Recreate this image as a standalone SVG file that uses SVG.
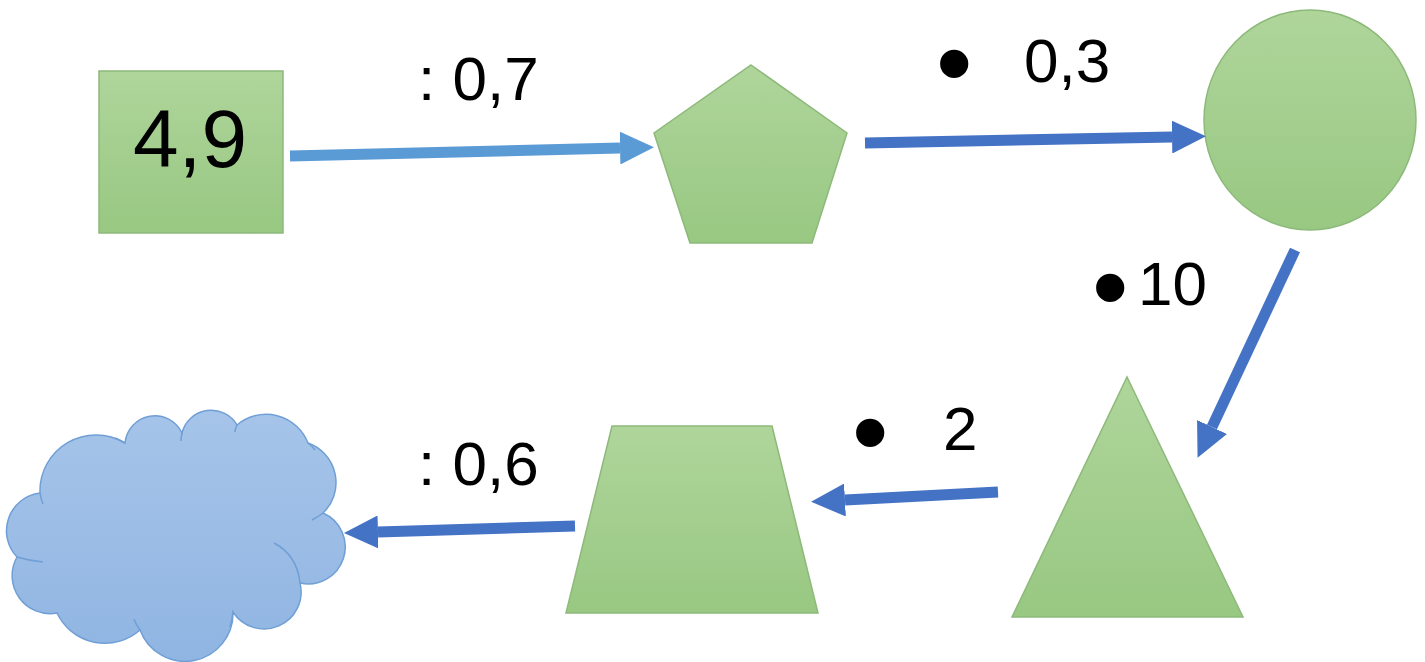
<svg xmlns="http://www.w3.org/2000/svg" width="1425" height="662" viewBox="0 0 1425 662">
<style>
.shape{fill:url(#gGreen);stroke:#8DB97A;stroke-width:1.5}
.cloud{fill:url(#gBlue);stroke:#6F9FD6;stroke-width:1.5}
.lbl{font-family:"Liberation Sans",Arial,sans-serif;font-size:62px;fill:#000}
.big{font-family:"Liberation Sans",Arial,sans-serif;font-size:82px;fill:#000}
.bul{font-size:104px}
.arL{fill:none;stroke:#5B9BD5;stroke-width:11}
.arD{fill:none;stroke:#4472C4;stroke-width:11}
.crease{fill:none;stroke:#6F9FD6;stroke-width:1.5}
</style>
<defs>
<linearGradient id="gGreen" x1="0" y1="0" x2="0" y2="1">
<stop offset="0" stop-color="#AFD59B"/>
<stop offset="1" stop-color="#98C882"/>
</linearGradient>
<linearGradient id="gBlue" x1="0" y1="0" x2="0" y2="1">
<stop offset="0" stop-color="#A6C4E9"/>
<stop offset="1" stop-color="#90B5E2"/>
</linearGradient>
<marker id="hL" viewBox="0 0 34 33" refX="0" refY="16.5" markerWidth="34" markerHeight="33" markerUnits="userSpaceOnUse" orient="auto">
<path d="M0,0 L34,16.5 L0,33 Z" fill="#5B9BD5"/>
</marker>
<marker id="hD" viewBox="0 0 34 33" refX="0" refY="16.5" markerWidth="34" markerHeight="33" markerUnits="userSpaceOnUse" orient="auto">
<path d="M0,0 L34,16.5 L0,33 Z" fill="#4472C4"/>
</marker>
</defs>
<rect width="1425" height="662" fill="#FFFFFF"/>

<g id="node-square">
<rect class="shape" x="99" y="71" width="184" height="162"/>
<text class="big" x="190" y="167" text-anchor="middle">4,9</text>
</g>

<g id="node-pentagon">
<polygon class="shape" points="751,65 847,133 812,243 690,243 654,133"/>
</g>

<g id="node-circle">
<ellipse class="shape" cx="1310" cy="120" rx="106" ry="110"/>
</g>

<g id="node-triangle">
<polygon class="shape" points="1127,377 1243,617 1012,617"/>
</g>

<g id="node-trapezoid">
<polygon class="shape" points="612,426 772,426 818,613 566,613"/>
</g>

<g id="node-cloud">
<path class="cloud" d="M17,557 A38,38 0 0 1 40,493 A56,56 0 0 1 125,443 A30,30 0 0 1 182,433 A30,30 0 0 1 237,425 A45,45 0 0 1 308,443 A42,42 0 0 1 323,513 A37,37 0 0 1 300,583 A37,37 0 0 1 233,612 A48,48 0 0 1 140,630 A53,53 0 0 1 57,613 A38,38 0 0 1 17,557 Z"/>
<path class="crease" d="M17,557 Q30,561 43,562"/>
<path class="crease" d="M40,493 Q41,499 43,504"/>
<path class="crease" d="M125,443 Q120,440 115,438"/>
<path class="crease" d="M182,433 Q181,437 181,441"/>
<path class="crease" d="M237,425 Q235,429 235,432"/>
<path class="crease" d="M308,443 Q312,446 315,450"/>
<path class="crease" d="M323,513 Q318,517 312,520"/>
<path class="crease" d="M300,583 Q297,555 274,543"/>
<path class="crease" d="M233,612 Q232,620 230,627"/>
<path class="crease" d="M140,630 Q136,625 134,619"/>
</g>

<g id="connectors">
<path class="arL" d="M290,156 L620,148" marker-end="url(#hL)"/>
<path class="arD" d="M865,143 L1172,137" marker-end="url(#hD)"/>
<path class="arD" d="M1295,250 L1212,427" marker-end="url(#hD)"/>
<path class="arD" d="M998,492 L845,500" marker-end="url(#hD)"/>
<path class="arD" d="M575,526 L378,532" marker-end="url(#hD)"/>
</g>

<g id="labels">
<text class="lbl" x="418" y="100">: 0,7</text>
<text class="lbl"><tspan class="bul" x="936" y="98">•</tspan><tspan x="1024" y="82">0,3</tspan></text>
<text class="lbl"><tspan class="bul" x="1092" y="322">•</tspan><tspan x="1138" y="305">10</tspan></text>
<text class="lbl"><tspan class="bul" x="852" y="467">•</tspan><tspan x="943" y="450">2</tspan></text>
<text class="lbl" x="418" y="485">: 0,6</text>
</g>
</svg>
